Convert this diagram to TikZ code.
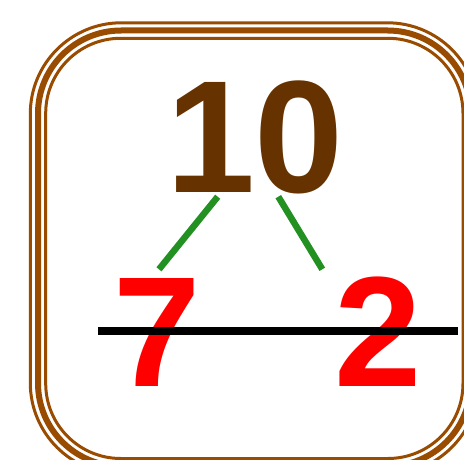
\documentclass[tikz,border=0pt]{standalone}
\usepackage{fontspec}
\setmainfont{Liberation Sans}
\definecolor{framebrown}{RGB}{153,76,0}
\definecolor{textbrown}{RGB}{102,51,0}
\definecolor{stickgreen}{RGB}{34,145,34}
\tikzset{
  frameline/.style={draw=framebrown, line width=#1, rounded corners=75pt},
  bignum/.style={inner sep=0pt, anchor=base, font=\fontsize{160}{160}\selectfont\bfseries, text=textbrown},
  partnum/.style={inner sep=0pt, anchor=base, font=\fontsize{157}{157}\selectfont\bfseries, text=red},
  stick/.style={draw=stickgreen, line width=6.5pt, line cap=butt},
  barline/.style={draw=black, line width=7.5pt, line cap=butt}
}
\begin{document}
\begin{tikzpicture}[x=1pt,y=-1pt]
\useasboundingbox (0,0) rectangle (464,460);
\clip (0,0) rectangle (464,460);
\fill[white] (0,0) rectangle (464,460);
% triple frame
\draw[frameline=3pt, rounded corners=91pt] (30.3,22.8) rectangle (478.4,474);
\draw[frameline=6pt, rounded corners=83pt] (38,30.5) rectangle (470.7,466.2);
\draw[frameline=3pt, rounded corners=75pt] (45.7,38.3) rectangle (463,458.5);
% numbers
\node[bignum] (ten) at (255,193) {10};
\node[partnum] (seven) at (157,386.7) {7};
\node[partnum] (two) at (378,386.7) {2};
% sticks
\coordinate (s1a) at (217.7,196.7);
\coordinate (s1b) at (159,269.3);
\coordinate (s2a) at (278.3,196.7);
\coordinate (s2b) at (322.3,269.3);
\draw[stick] (s1a) -- (s1b);
\draw[stick] (s2a) -- (s2b);
% bar
\coordinate (barL) at (98.3,331);
\coordinate (barR) at (458.3,331);
\draw[barline] (barL) -- (barR);
\end{tikzpicture}
\end{document}
